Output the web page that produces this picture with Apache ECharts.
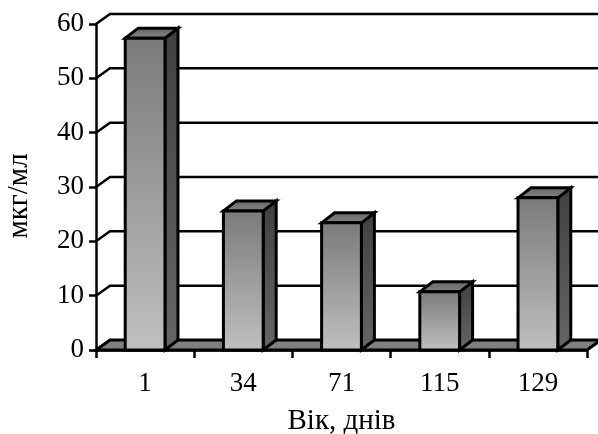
<!DOCTYPE html>
<html>
<head>
<meta charset="utf-8">
<script src="https://cdn.jsdelivr.net/npm/echarts@6/dist/echarts.min.js"></script>
<style>
  html, body { margin: 0; padding: 0; background: #fff; }
  #chart { width: 598px; height: 434px; }
</style>
</head>
<body>
<div id="chart"></div>
<script>
const categories = ['1', '34', '71', '115', '129'];
const values = [57.4, 25.6, 23.4, 10.7, 28];
const yTicks = [10, 20, 30, 40, 50, 60];

const depthX = 14;
const depthY = 10;
const font = '"Liberation Serif", "Times New Roman", serif';
const stroke = { stroke: '#000', lineWidth: 3, lineJoin: 'miter' };

const chart = echarts.init(document.getElementById('chart'), null, { renderer: 'canvas' });

const vGrad = (top, bottom) => new echarts.graphic.LinearGradient(0, 0, 0, 1, [
    { offset: 0, color: top },
    { offset: 1, color: bottom }
]);

// back wall gridlines: diagonal off the front axis, then flat to the right edge
const renderWallLine = (params, api) => {
    const y = api.coord([0, api.value(1)])[1];
    const sys = params.coordSys;
    return {
        type: 'polyline',
        shape: {
            points: [
                [sys.x, y],
                [sys.x + depthX, y - depthY],
                [sys.x + sys.width + depthX, y - depthY]
            ]
        },
        style: { fill: null, stroke: '#000', lineWidth: 2.5 }
    };
};

const renderFloor = (params, api) => {
    const y = api.coord([0, 0])[1];
    const sys = params.coordSys;
    return {
        type: 'polygon',
        shape: {
            points: [
                [sys.x, y],
                [sys.x + depthX, y - depthY],
                [sys.x + sys.width + depthX, y - depthY],
                [sys.x + sys.width, y]
            ]
        },
        style: { fill: '#808080', ...stroke }
    };
};

const renderBar = (params, api) => {
    const top = api.coord([api.value(0), api.value(1)]);
    const base = api.coord([api.value(0), 0]);
    const w = api.size([1, 0])[0] * 0.405;
    const l = top[0] - w / 2;
    const r = top[0] + w / 2;
    const d = depthX - 1;
    return {
        type: 'group',
        children: [
            {
                type: 'polygon',
                shape: { points: [[r, base[1]], [r + d, base[1] - depthY], [r + d, top[1] - depthY], [r, top[1]]] },
                style: { fill: vGrad('#404040', '#666666'), ...stroke }
            },
            {
                type: 'polygon',
                shape: { points: [[l, top[1]], [l + d, top[1] - depthY], [r + d, top[1] - depthY], [r, top[1]]] },
                style: { fill: vGrad('#666666', '#858585'), ...stroke }
            },
            {
                type: 'rect',
                shape: { x: l, y: top[1], width: w, height: base[1] - top[1] },
                style: { fill: vGrad('#7a7a7a', '#c0c0c0'), ...stroke }
            }
        ]
    };
};

chart.setOption({
    animation: false,
    backgroundColor: '#fff',
    grid: { left: 96, right: 11, top: 24, bottom: 84, outerBoundsMode: 'none' },
    xAxis: {
        type: 'category',
        data: categories,
        name: 'Вік, днів',
        nameLocation: 'middle',
        nameGap: 57,
        nameTextStyle: { fontFamily: font, fontSize: 29, color: '#000' },
        axisLine: { lineStyle: { color: '#000', width: 2.5 } },
        axisTick: { show: true, alignWithLabel: false, length: 8, lineStyle: { color: '#000', width: 2.5 } },
        axisLabel: { fontFamily: font, fontSize: 27, color: '#000', margin: 20 }
    },
    yAxis: {
        type: 'value',
        min: 0,
        max: 60,
        interval: 10,
        name: 'мкг/мл',
        nameLocation: 'middle',
        nameGap: 62,
        nameRotate: 90,
        nameTextStyle: { fontFamily: font, fontSize: 29, color: '#000', padding: [0, 18, 0, 0] },
        splitLine: { show: false },
        axisLine: { show: true, lineStyle: { color: '#000', width: 2.5 } },
        axisTick: { show: true, length: 7, lineStyle: { color: '#000', width: 2.5 } },
        axisLabel: { fontFamily: font, fontSize: 27, color: '#000', margin: 12 }
    },
    series: [
        {
            type: 'custom',
            renderItem: renderWallLine,
            clip: false,
            silent: true,
            z: 1,
            encode: { x: 0, y: 1 },
            data: yTicks.map(t => [0, t])
        },
        {
            type: 'custom',
            renderItem: renderFloor,
            clip: false,
            silent: true,
            z: 2,
            encode: { x: 0, y: 1 },
            data: [[0, 0]]
        },
        {
            type: 'custom',
            renderItem: renderBar,
            clip: false,
            z: 3,
            encode: { x: 0, y: 1 },
            data: values.map((v, i) => [i, v])
        }
    ]
});
</script>
</body>
</html>
